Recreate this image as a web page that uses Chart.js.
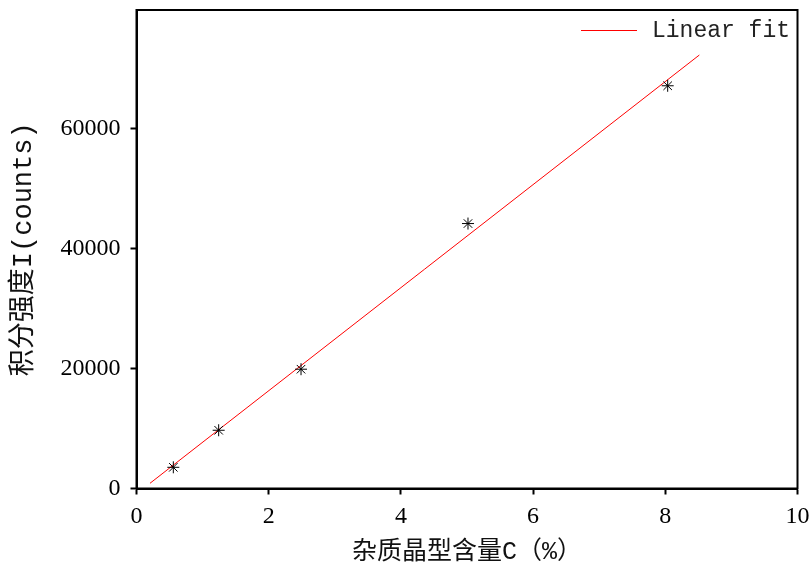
<!DOCTYPE html>
<html>
<head>
<meta charset="utf-8">
<script src="https://cdn.jsdelivr.net/npm/chart.js@4/dist/chart.umd.min.js"></script>
<style>
  html, body { margin: 0; padding: 0; background: #fff; }
  #wrap { width: 812px; height: 571px; }
</style>
</head>
<body>
<div id="wrap"><canvas id="c" width="812" height="571"></canvas></div>
<script>
// Data
const contentX = [0.557, 1.243, 2.489, 5.015, 8.036];      // 杂质晶型含量C (%)
const intensityY = [3530, 9700, 19870, 44130, 67080];       // 积分强度I (counts)
const fitX = [0.204, 8.515];                               // Linear fit endpoints
const fitY = [867, 72200];
const xTicks = [0, 2, 4, 6, 8, 10];
const yTicks = [0, 20000, 40000, 60000];
const xTitle = '杂质晶型含量C（%）';
const yTitle = '积分强度I(counts)';
const legendLabel = 'Linear fit';

const boxPlugin = {
  id: 'box',
  afterDatasetsDraw(chart) {
    const a = chart.chartArea, ctx = chart.ctx;
    ctx.save();
    ctx.strokeStyle = '#000';
    ctx.lineWidth = 2;
    ctx.strokeRect(a.left, a.top, a.right - a.left, a.bottom - a.top);
    // legend (top-right inside the plot)
    const ds = chart.data.datasets[1];
    ctx.strokeStyle = ds.borderColor;
    ctx.lineWidth = 1;
    ctx.beginPath();
    ctx.moveTo(a.left + 444.5, a.top + 20.5);
    ctx.lineTo(a.left + 500.5, a.top + 20.5);
    ctx.stroke();
    ctx.fillStyle = '#222';
    ctx.font = '23px "Liberation Mono", "DejaVu Sans Mono", monospace';
    ctx.textBaseline = 'middle';
    ctx.textAlign = 'left';
    ctx.fillText(ds.label, a.left + 515.5, a.top + 21);
    ctx.restore();
  }
};

const tickFont = { family: '"Liberation Serif", "Times New Roman", serif', size: 24 };

new Chart(document.getElementById('c'), {
  type: 'scatter',
  data: {
    datasets: [
      {
        label: 'data',
        data: contentX.map((x, i) => ({ x, y: intensityY[i] })),
        pointStyle: 'star',
        pointRadius: 6,
        pointBorderColor: '#000',
        pointBackgroundColor: '#000',
        pointBorderWidth: 1,
        showLine: false
      },
      {
        label: legendLabel,
        data: fitX.map((x, i) => ({ x, y: fitY[i] })),
        showLine: true,
        borderColor: 'rgb(255,0,0)',
        backgroundColor: 'rgb(255,0,0)',
        borderWidth: 1,
        pointRadius: 0
      }
    ]
  },
  options: {
    responsive: false,
    animation: false,
    devicePixelRatio: 1,
    layout: { padding: { left: 0, right: 14.5, top: 10, bottom: 0 } },
    plugins: {
      tooltip: { enabled: false },
      legend: { display: false }
    },
    scales: {
      x: {
        type: 'linear',
        min: 0, max: 10,
        afterFit: s => { s.height = 82.5; s.paddingLeft = 0; s.paddingRight = 0; },
        afterBuildTicks: s => { s.ticks = xTicks.map(v => ({ value: v })); },
        ticks: { color: '#000', font: tickFont, padding: 8, maxRotation: 0 },
        grid: { display: true, drawOnChartArea: false, drawTicks: true, tickLength: 6, tickWidth: 2, tickColor: '#000', color: '#000' },
        border: { display: true, color: '#000', width: 2 },
        title: {
          display: true, text: xTitle, color: '#111',
          font: { family: '"Liberation Mono", "Noto Sans CJK SC", sans-serif', size: 25 },
          padding: { top: 0, bottom: 4 }
        }
      },
      y: {
        type: 'linear',
        min: 0, max: 79700,
        afterFit: s => { s.width = 136.5; s.paddingTop = 0; s.paddingBottom = 0; },
        afterBuildTicks: s => { s.ticks = yTicks.map(v => ({ value: v })); },
        ticks: { color: '#000', font: tickFont, padding: 10, callback: v => String(v) },
        grid: { display: true, drawOnChartArea: false, drawTicks: true, tickLength: 6, tickWidth: 2, tickColor: '#000', color: '#000' },
        border: { display: true, color: '#000', width: 2 },
        title: {
          display: true, text: yTitle, color: '#111',
          font: { family: '"Liberation Mono", "Noto Sans CJK SC", sans-serif', size: 27 },
          padding: { top: 8, bottom: 0 }
        }
      }
    }
  },
  plugins: [boxPlugin]
});
</script>
</body>
</html>
